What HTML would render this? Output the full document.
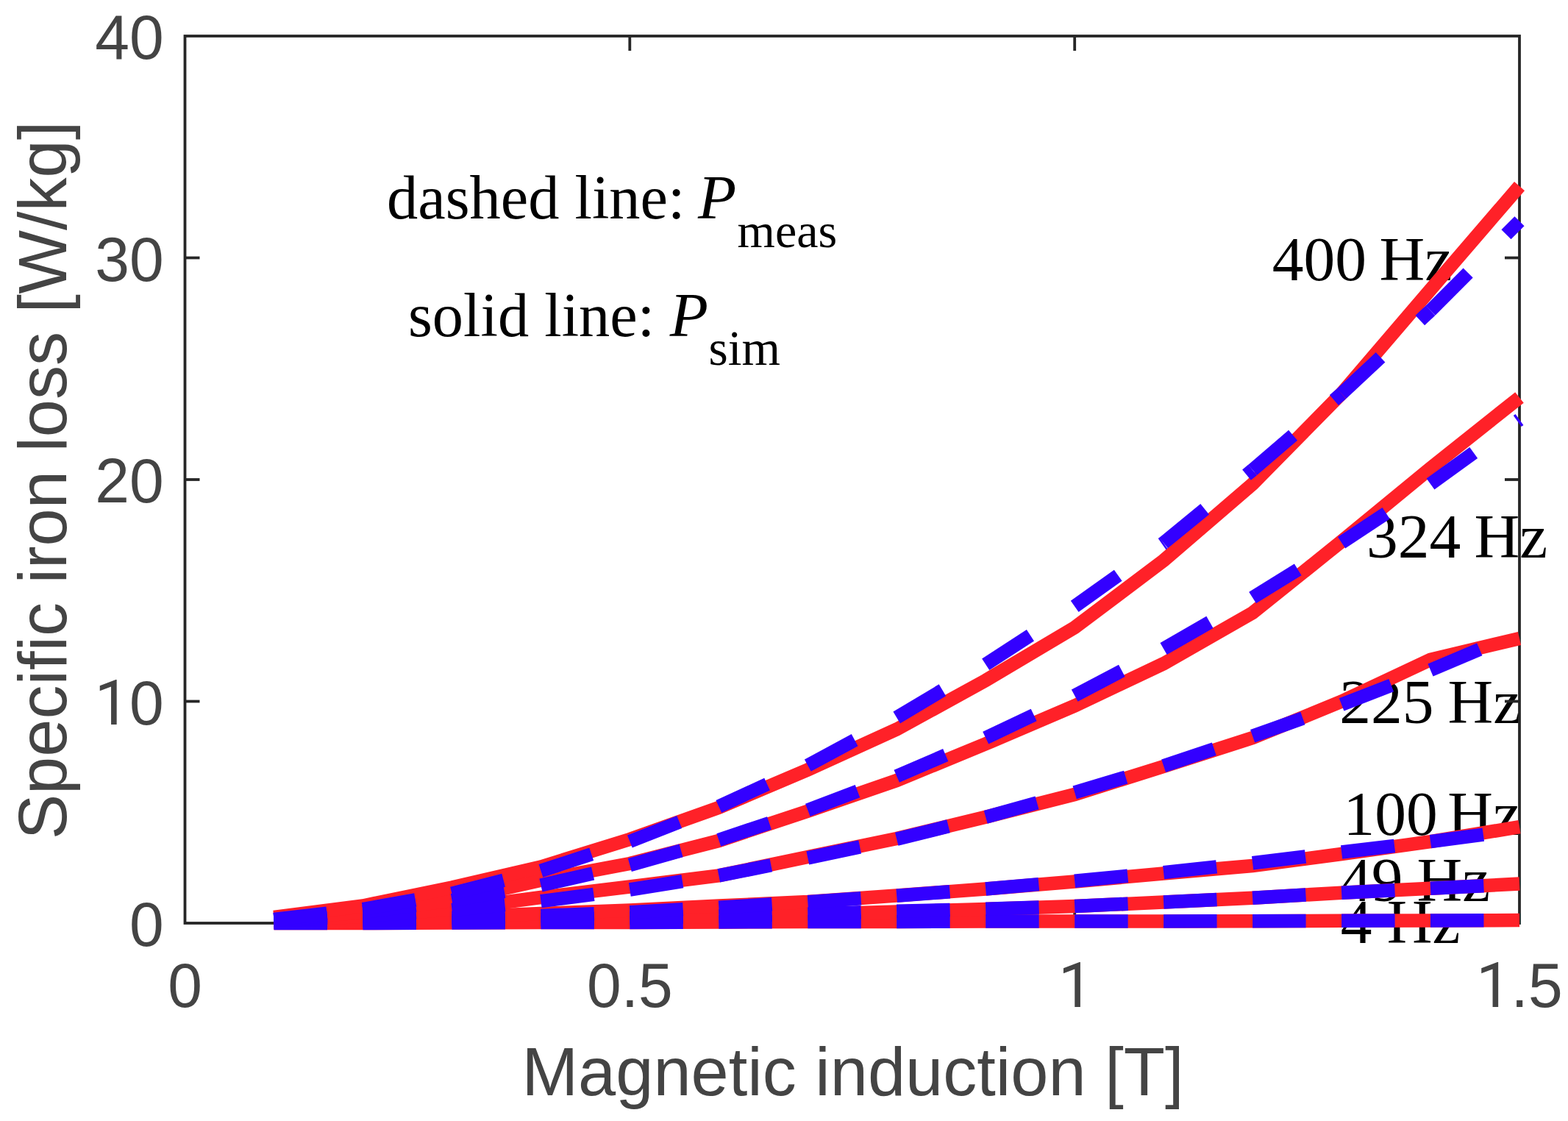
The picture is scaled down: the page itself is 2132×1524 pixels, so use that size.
<!DOCTYPE html><html><head><meta charset="utf-8"><title>Specific iron loss vs magnetic induction</title>
<style>html,body{margin:0;padding:0;background:#fff;overflow:hidden}svg{display:block}.tk{font-family:"Liberation Sans",Arial,sans-serif;font-size:84px;fill:#444444}.one{font-family:Roboto,FreeSans,"Liberation Sans",Arial,sans-serif}.lb{font-family:"Liberation Sans",Arial,sans-serif;font-size:92px;fill:#444444}.an{font-family:"Liberation Serif","Times New Roman",serif;font-size:85.5px;fill:#000}.sb{font-size:66px}.it{font-style:italic}</style></head><body>
<svg width="2132" height="1524" viewBox="0 0 2132 1524">
<rect width="2132" height="1524" fill="#fff"/>
<g class="an">
<text x="526" y="296.6" style="font-size:84.4px">dashed line:</text>
<text x="948.9" y="296.6" class="it" style="font-size:85.5px">P</text>
<text x="1002.6" y="335.6" class="sb" style="font-size:66px">meas</text>
<text x="555" y="457.2" style="font-size:84.4px">solid line:</text>
<text x="910.8" y="457.2" class="it" style="font-size:85.5px">P</text>
<text x="963.6" y="496.2" class="sb" style="font-size:67.5px">sim</text>
<text y="381" style="font-size:85.5px"><tspan x="1729.7">400</tspan> <tspan x="1875.4">Hz</tspan></text>
<text y="758.3" style="font-size:85.5px"><tspan x="1858">324</tspan> <tspan x="2004.5">Hz</tspan></text>
<text y="983.4" style="font-size:85.5px"><tspan x="1821.2">225</tspan> <tspan x="1968.5">Hz</tspan></text>
<text y="1134.8" style="font-size:85.5px"><tspan x="1826.4">100</tspan> <tspan x="1968.3">Hz</tspan></text>
<text y="1224.6" style="font-size:85.5px"><tspan x="1821.9">49</tspan> <tspan x="1926.6">Hz</tspan></text>
<text y="1282" style="font-size:85.5px"><tspan x="1822.7">4</tspan> <tspan x="1885.7">Hz</tspan></text>
</g>
<g stroke="#262626" stroke-width="3.8" fill="none" stroke-linecap="butt">
<rect x="251.5" y="49" width="1814.5" height="1206"/>
<line x1="856.3" y1="1255" x2="856.3" y2="1235"/>
<line x1="856.3" y1="49" x2="856.3" y2="69"/>
<line x1="1461.2" y1="1255" x2="1461.2" y2="1235"/>
<line x1="1461.2" y1="49" x2="1461.2" y2="69"/>
<line x1="251.5" y1="953.5" x2="271.5" y2="953.5"/>
<line x1="2066" y1="953.5" x2="2046" y2="953.5"/>
<line x1="251.5" y1="652" x2="271.5" y2="652"/>
<line x1="2066" y1="652" x2="2046" y2="652"/>
<line x1="251.5" y1="350.5" x2="271.5" y2="350.5"/>
<line x1="2066" y1="350.5" x2="2046" y2="350.5"/>
</g>
<g class="tk">
<text transform="translate(222.7,1286.3) scale(1,1.012)" text-anchor="end">0</text>
<text transform="translate(222.7,984.8) scale(1,1.012)" text-anchor="end"><tspan class="one">1</tspan>0</text>
<text transform="translate(222.7,683.3) scale(1,1.012)" text-anchor="end">20</text>
<text transform="translate(222.7,381.8) scale(1,1.012)" text-anchor="end">30</text>
<text transform="translate(222.7,80.3) scale(1,1.012)" text-anchor="end">40</text>
<text transform="translate(251.5,1369) scale(1,1.012)" text-anchor="middle">0</text>
<text transform="translate(856.3,1369) scale(1,1.012)" text-anchor="middle">0.5</text>
<text transform="translate(1462.7,1369) scale(1,1.012)" text-anchor="middle"><tspan class="one">1</tspan></text>
<text transform="translate(2066,1369) scale(1,1.012)" text-anchor="middle"><tspan class="one">1</tspan>.5</text>
</g>
<text class="lb" x="1159.5" y="1488.8" text-anchor="middle">Magnetic induction [T]</text>
<text class="lb" transform="translate(90,653) rotate(-90)" text-anchor="middle">Specific iron loss [W/kg]</text>
<g fill="none" stroke="#ff2128" stroke-width="18.5" stroke-linejoin="miter" stroke-miterlimit="10" stroke-linecap="butt">
<polyline points="372.5,1255 493.4,1255 614.4,1254.5 735.4,1254 856.3,1254 977.3,1253.5 1098.3,1253 1219.2,1253 1340.2,1252.5 1461.2,1252.5 1582.1,1252.5 1703.1,1252.2 1824.1,1251.8 1945,1251.5 2066,1251"/>
<polyline points="372.5,1254 493.4,1253 614.4,1251.5 735.4,1250 856.3,1248 977.3,1246 1098.3,1243 1219.2,1239.5 1340.2,1236 1461.2,1232 1582.1,1226.5 1703.1,1220.7 1824.1,1213.7 1945,1207.8 2066,1201.6"/>
<polyline points="372.5,1254 493.4,1251.5 614.4,1247 735.4,1242 856.3,1237.5 977.3,1231.5 1098.3,1226 1219.2,1217.5 1340.2,1208.5 1461.2,1198.5 1582.1,1187.5 1703.1,1177 1824.1,1161 1945,1144.2 2066,1124.2"/>
<polyline points="372.5,1252 493.4,1245.5 614.4,1236 735.4,1220 856.3,1205.5 977.3,1190.4 1098.3,1165 1219.2,1140 1340.2,1110.8 1461.2,1080 1582.1,1042 1703.1,1003.1 1824.1,953.6 1945,896.8 2066,868"/>
<polyline points="372.5,1250 493.4,1240 614.4,1224 735.4,1196.8 856.3,1174 977.3,1143 1098.3,1102.7 1219.2,1061 1340.2,1011.3 1461.2,959.6 1582.1,902.2 1703.1,833.2 1824.1,736 1945,636.6 2066,540.4"/>
<polyline points="372.5,1247 493.4,1231.5 614.4,1206.5 735.4,1178.5 856.3,1141 977.3,1098 1098.3,1046.5 1219.2,991.5 1340.2,925 1461.2,853.1 1582.1,762.1 1703.1,658 1824.1,535 1945,393.7 2066,253.1"/>
</g>
<g fill="none" stroke="#3300ff" stroke-width="18.5" stroke-linecap="butt" stroke-dasharray="72.5 73.5">
<line x1="372.5" y1="1255" x2="493.4" y2="1255"/>
<line x1="493.4" y1="1255" x2="614.4" y2="1254.5"/>
<line x1="614.4" y1="1254.5" x2="735.4" y2="1254"/>
<line x1="735.4" y1="1254" x2="856.3" y2="1254"/>
<line x1="856.3" y1="1254" x2="977.3" y2="1253.5"/>
<line x1="977.3" y1="1253.5" x2="1098.3" y2="1253"/>
<line x1="1098.3" y1="1253" x2="1219.2" y2="1253"/>
<line x1="1219.2" y1="1253" x2="1340.2" y2="1252.5"/>
<line x1="1340.2" y1="1252.5" x2="1461.2" y2="1252.5"/>
<line x1="1461.2" y1="1252.5" x2="1582.1" y2="1252.5"/>
<line x1="1582.1" y1="1252.5" x2="1703.1" y2="1252.2"/>
<line x1="1703.1" y1="1252.2" x2="1824.1" y2="1251.8"/>
<line x1="1824.1" y1="1251.8" x2="1945" y2="1251.5"/>
<line x1="1945" y1="1251.5" x2="2066" y2="1251"/>
<line x1="372.5" y1="1254" x2="493.4" y2="1253"/>
<line x1="493.4" y1="1253" x2="614.4" y2="1251.5"/>
<line x1="614.4" y1="1251.5" x2="735.4" y2="1250"/>
<line x1="735.4" y1="1250" x2="856.3" y2="1248"/>
<line x1="856.3" y1="1248" x2="977.3" y2="1245.5"/>
<line x1="977.3" y1="1245.5" x2="1098.3" y2="1242.5"/>
<line x1="1098.3" y1="1242.5" x2="1219.2" y2="1238.8"/>
<line x1="1219.2" y1="1238.8" x2="1340.2" y2="1235.8"/>
<line x1="1340.2" y1="1235.8" x2="1461.2" y2="1232"/>
<line x1="1461.2" y1="1232" x2="1582.1" y2="1226.5"/>
<line x1="1582.1" y1="1226.5" x2="1703.1" y2="1220.7"/>
<line x1="1703.1" y1="1220.7" x2="1824.1" y2="1213.7"/>
<line x1="1824.1" y1="1213.7" x2="1945" y2="1207.8"/>
<line x1="1945" y1="1207.8" x2="2066" y2="1202"/>
<line x1="372.5" y1="1253" x2="493.4" y2="1251"/>
<line x1="493.4" y1="1251" x2="614.4" y2="1248"/>
<line x1="614.4" y1="1248" x2="735.4" y2="1245"/>
<line x1="735.4" y1="1245" x2="856.3" y2="1240.2"/>
<line x1="856.3" y1="1240.2" x2="977.3" y2="1233.7"/>
<line x1="977.3" y1="1233.7" x2="1098.3" y2="1226.2"/>
<line x1="1098.3" y1="1226.2" x2="1219.2" y2="1217.8"/>
<line x1="1219.2" y1="1217.8" x2="1340.2" y2="1208.5"/>
<line x1="1340.2" y1="1208.5" x2="1461.2" y2="1197.8"/>
<line x1="1461.2" y1="1197.8" x2="1582.1" y2="1186.1"/>
<line x1="1582.1" y1="1186.1" x2="1703.1" y2="1173.2"/>
<line x1="1703.1" y1="1173.2" x2="1824.1" y2="1158.5"/>
<line x1="1824.1" y1="1158.5" x2="1945" y2="1144.2"/>
<line x1="1945" y1="1144.2" x2="2066" y2="1128"/>
<line x1="372.5" y1="1252" x2="493.4" y2="1245"/>
<line x1="493.4" y1="1245" x2="614.4" y2="1237"/>
<line x1="614.4" y1="1237" x2="735.4" y2="1225.2"/>
<line x1="735.4" y1="1225.2" x2="856.3" y2="1209.5"/>
<line x1="856.3" y1="1209.5" x2="977.3" y2="1190.4"/>
<line x1="977.3" y1="1190.4" x2="1098.3" y2="1166.4"/>
<line x1="1098.3" y1="1166.4" x2="1219.2" y2="1140.8"/>
<line x1="1219.2" y1="1140.8" x2="1340.2" y2="1110.8"/>
<line x1="1340.2" y1="1110.8" x2="1461.2" y2="1077.3"/>
<line x1="1461.2" y1="1077.3" x2="1582.1" y2="1041.3"/>
<line x1="1582.1" y1="1041.3" x2="1703.1" y2="1000.7"/>
<line x1="1703.1" y1="1000.7" x2="1824.1" y2="957.8"/>
<line x1="1824.1" y1="957.8" x2="1945" y2="911"/>
<line x1="1945" y1="911" x2="2066" y2="860"/>
<line x1="372.5" y1="1251" x2="493.4" y2="1240"/>
<line x1="493.4" y1="1240" x2="614.4" y2="1224"/>
<line x1="614.4" y1="1224" x2="735.4" y2="1203.5"/>
<line x1="735.4" y1="1203.5" x2="856.3" y2="1176"/>
<line x1="856.3" y1="1176" x2="977.3" y2="1142"/>
<line x1="977.3" y1="1142" x2="1098.3" y2="1101.4"/>
<line x1="1098.3" y1="1101.4" x2="1219.2" y2="1055.3"/>
<line x1="1219.2" y1="1055.3" x2="1340.2" y2="1003.1"/>
<line x1="1340.2" y1="1003.1" x2="1461.2" y2="945.6"/>
<line x1="1461.2" y1="945.6" x2="1582.1" y2="882"/>
<line x1="1582.1" y1="882" x2="1703.1" y2="812.5"/>
<line x1="1703.1" y1="812.5" x2="1824.1" y2="737.7"/>
<line x1="1824.1" y1="737.7" x2="1945" y2="658.1"/>
<line x1="1945" y1="658.1" x2="2066" y2="570.4"/>
<line x1="372.5" y1="1250" x2="493.4" y2="1236"/>
<line x1="493.4" y1="1236" x2="614.4" y2="1214.7"/>
<line x1="614.4" y1="1214.7" x2="735.4" y2="1183.9"/>
<line x1="735.4" y1="1183.9" x2="856.3" y2="1144"/>
<line x1="856.3" y1="1144" x2="977.3" y2="1096.5"/>
<line x1="977.3" y1="1096.5" x2="1098.3" y2="1040.6"/>
<line x1="1098.3" y1="1040.6" x2="1219.2" y2="975.5"/>
<line x1="1219.2" y1="975.5" x2="1340.2" y2="903.2"/>
<line x1="1340.2" y1="903.2" x2="1461.2" y2="824.4"/>
<line x1="1461.2" y1="824.4" x2="1582.1" y2="738.2"/>
<line x1="1582.1" y1="738.2" x2="1703.1" y2="639"/>
<line x1="1703.1" y1="639" x2="1824.1" y2="535.2"/>
<line x1="1824.1" y1="535.2" x2="1945" y2="422.3"/>
<line x1="1945" y1="422.3" x2="2066" y2="300.7"/>
</g>
</svg></body></html>
